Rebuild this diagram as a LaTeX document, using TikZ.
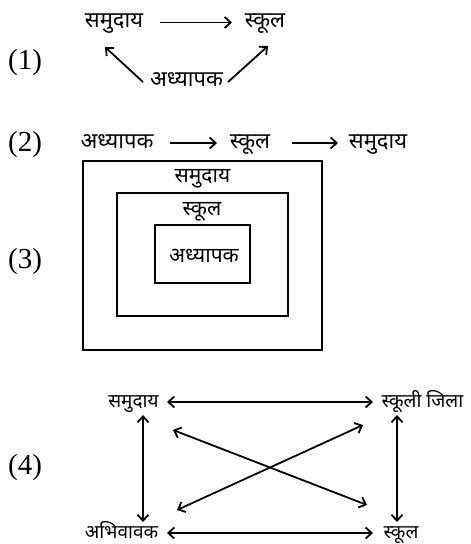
\documentclass[tikz,border=0pt]{standalone}
\usepackage{fontspec}
\setmainfont{Liberation Serif}
\newfontfamily\dev[Script=Devanagari]{Noto Sans}
\usetikzlibrary{arrows.meta}
\tikzset{
  lab/.style={font=\fontsize{29}{32}\selectfont, inner sep=0pt},
  dv/.style={font=\dev\fontsize{22}{25}\selectfont, inner sep=0pt, anchor=base},
  dvm/.style={font=\dev\fontsize{21}{24}\selectfont, inner sep=0pt, anchor=base},
  dvs/.style={font=\dev\fontsize{19}{22}\selectfont, inner sep=0pt, anchor=base},
  tip/.tip={Straight Barb[length=6pt,width=11pt,line width=1.8pt]},
  arr/.style={line width=1.8pt, -tip},
  darr/.style={line width=1.8pt, tip-tip},
  box/.style={draw, line width=1.8pt},
}
\begin{document}
\begin{tikzpicture}[x=1pt,y=-1pt]
\useasboundingbox (0,0) rectangle (471,544);
% (1)
\node[lab] (l1) at (25,63) {(1)};
\node[dv] (a1) at (114,27) {समुदाय};
\node[dv] (b1) at (265,27) {स्कूल};
\node[dv] (c1) at (186.5,86) {अध्यापक};
\coordinate (a1e) at (160,22.5);
\coordinate (b1s) at (232,22.5);
\draw[arr] (a1e) -- (b1s);
\coordinate (c1l) at (143,82);
\coordinate (a1b) at (105,47);
\coordinate (c1r) at (228,82);
\coordinate (b1b) at (268,46);
\draw[arr] (c1l) -- (a1b);
\draw[arr] (c1r) -- (b1b);
% (2)
\node[lab] (l2) at (25,145) {(2)};
\node[dv] (a2) at (117,148) {अध्यापक};
\node[dv] (b2) at (250,148) {स्कूल};
\node[dv] (c2) at (378,148) {समुदाय};
\coordinate (p1) at (170,143);
\coordinate (p2) at (217,143);
\coordinate (p3) at (292,143);
\coordinate (p4) at (338,143);
\draw[arr] (p1) -- (p2);
\draw[arr] (p3) -- (p4);
% (3)
\node[lab] (l3) at (25,262) {(3)};
\draw[box, line width=2.2pt] (83,161) rectangle (322,350);
\draw[box] (117,193) rectangle (288,316);
\draw[box] (155,225) rectangle (250,283);
\node[dvm] (o3) at (202.5,182) {समुदाय};
\node[dvm] (m3) at (202,215) {स्कूल};
\node[dvm] (i3) at (204,262) {अध्यापक};
% (4)
\node[lab] (l4) at (25,468) {(4)};
\node[dvs] (tl) at (133.5,407) {समुदाय};
\node[dvs] (tr) at (422.5,407) {स्कूली जिला};
\node[dvs] (bl) at (121.5,538) {अभिवावक};
\node[dvs] (br) at (401,538) {स्कूल};
\coordinate (t1) at (167,402);
\coordinate (t2) at (373,402);
\coordinate (u1) at (167,533);
\coordinate (u2) at (373,533);
\coordinate (v1) at (143,415);
\coordinate (v2) at (143,522);
\coordinate (w1) at (397,415);
\coordinate (w2) at (397,522);
\coordinate (d1) at (173,430);
\coordinate (d2) at (367,505);
\coordinate (e1) at (177,510);
\coordinate (e2) at (363,425);
\draw[darr] (t1) -- (t2);
\draw[darr] (u1) -- (u2);
\draw[darr] (v1) -- (v2);
\draw[darr] (w1) -- (w2);
\draw[darr] (d1) -- (d2);
\draw[darr] (e1) -- (e2);
\end{tikzpicture}
\end{document}
